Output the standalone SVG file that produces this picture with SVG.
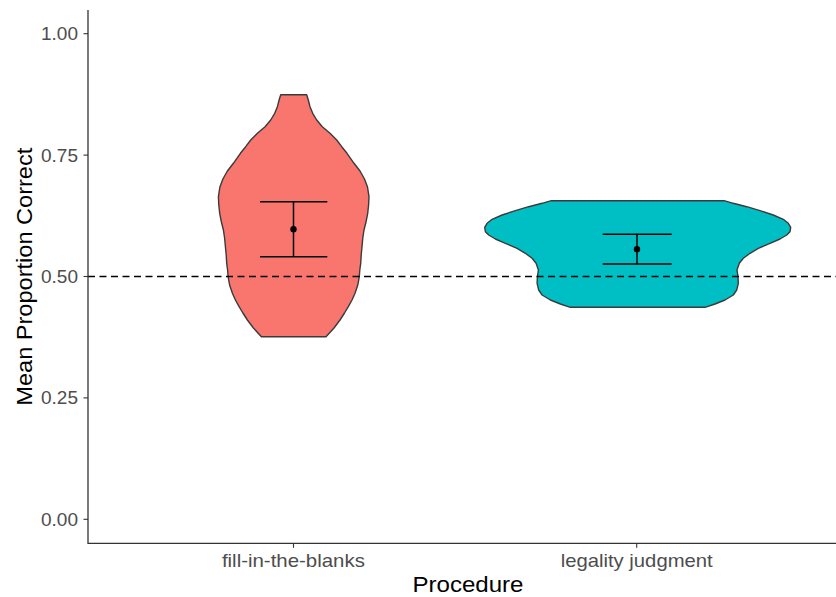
<svg xmlns="http://www.w3.org/2000/svg" width="836" height="597" viewBox="0 0 836 597">
  <style>
    .axis { stroke: #333333; stroke-width: 1.3; fill: none; }
    .tick { stroke: #333333; stroke-width: 1.1; }
    .ticklab { font-family: "Liberation Sans", Arial, sans-serif; font-size: 18px; fill: #4d4d4d; }
    .xlab { font-family: "Liberation Sans", Arial, sans-serif; font-size: 19px; fill: #4d4d4d; text-anchor: middle; }
    .title { font-family: "Liberation Sans", Arial, sans-serif; font-size: 22px; fill: #000000; text-anchor: middle; }
    .violin { stroke: #3a3a3a; stroke-width: 1.4; stroke-linejoin: round; }
    .err { stroke: #000000; stroke-width: 1.5; fill: none; }
    .ref { stroke: #000000; stroke-width: 1.3; stroke-dasharray: 7 4.5; fill: none; }
  </style>

  <rect width="836" height="597" fill="#ffffff"/>

  <!-- violins -->
  <g id="violin-fill-in-the-blanks">
    <polygon class="violin" fill="#F8766D" points="
      306.7,94.7 308.3,100 310,106.7 312.7,113.3 316.7,120 322.3,126.7 330,133.3 336.7,140 341.7,146.7 347,153.3
      354,163.3 360,171 364.5,179 367.5,187 369,196.7 368.6,205 367.7,213.3 366,222 364,230 362.8,238 362,246.7
      361.2,255 360.7,263.3 359.8,270 359.3,276.7 357.8,285 355,293.3 352,300 348.3,306.7 344.5,313 340,320 334,328
      326,336.7 261.4,336.7
      253.4,328 247.4,320 242.9,313 239.1,306.7 235.4,300 232.4,293.3 229.6,285 228.1,276.7 227.6,270 226.7,263.3
      226.2,255 225.4,246.7 224.6,238 223.4,230 221.4,222 219.7,213.3 218.8,205 218.4,196.7 219.9,187 222.9,179
      227.4,171 233.4,163.3 240.4,153.3 245.7,146.7 250.7,140 257.4,133.3 265.1,126.7 270.7,120 274.7,113.3
      277.4,106.7 279.1,100 280.7,94.7"/>
  </g>

  <g id="violin-legality-judgment">
    <polygon class="violin" fill="#00BFC4" points="
      724,200.7 733.3,203.3 746.7,206.7 760,210.7 773.3,215 783.3,219.3 788.3,223.3 790.7,227.3 790,231.7 786.7,235
      780,239 770,243.3 758.3,248.3 750,253.3 743.3,258.3 739.3,263.3 737,270 738,276.7 738.3,283.3 736.7,290
      733.3,295 725,300 715,304 705,307.3 570.4,307.3
      560.4,304 550.4,300 542.1,295 538.7,290 537.1,283.3 537.4,276.7 538.4,270 536.1,263.3 532.1,258.3 525.4,253.3
      517.1,248.3 505.4,243.3 495.4,239 488.7,235 485.4,231.7 484.7,227.3 487.1,223.3 492.1,219.3 502.1,215 515.4,210.7
      528.7,206.7 542.1,203.3 551.4,200.7"/>
  </g>

  <!-- reference line at chance -->
  <line class="ref" x1="88" y1="276.5" x2="836" y2="276.5"/>

  <!-- mean and error bars -->
  <g id="errorbar-fill-in-the-blanks">
    <line class="err" x1="260" y1="201.7" x2="327.3" y2="201.7"/>
    <line class="err" x1="260" y1="256.7" x2="327.3" y2="256.7"/>
    <line class="err" x1="293.5" y1="201.7" x2="293.5" y2="256.7"/>
    <circle cx="293.5" cy="229.3" r="3.2" fill="#000000"/>
  </g>
  <g id="errorbar-legality-judgment">
    <line class="err" x1="602.7" y1="234.3" x2="671.7" y2="234.3"/>
    <line class="err" x1="602.7" y1="264" x2="671.7" y2="264"/>
    <line class="err" x1="637" y1="234.3" x2="637" y2="264"/>
    <circle cx="637" cy="249.3" r="3.2" fill="#000000"/>
  </g>

  <!-- axes -->
  <g id="axes">
    <polyline class="axis" points="88,10 88,543.3 836,543.3"/>
    <line class="tick" x1="83.5" y1="33.7" x2="88" y2="33.7"/>
    <line class="tick" x1="83.5" y1="155.1" x2="88" y2="155.1"/>
    <line class="tick" x1="83.5" y1="276.5" x2="88" y2="276.5"/>
    <line class="tick" x1="83.5" y1="397.9" x2="88" y2="397.9"/>
    <line class="tick" x1="83.5" y1="519.3" x2="88" y2="519.3"/>
    <line class="tick" x1="293.5" y1="543.3" x2="293.5" y2="547.8"/>
    <line class="tick" x1="636.7" y1="543.3" x2="636.7" y2="547.8"/>

    <text class="ticklab" x="78" y="40.2" text-anchor="end" textLength="37" lengthAdjust="spacingAndGlyphs">1.00</text>
    <text class="ticklab" x="78" y="161.6" text-anchor="end" textLength="37" lengthAdjust="spacingAndGlyphs">0.75</text>
    <text class="ticklab" x="78" y="283" text-anchor="end" textLength="37" lengthAdjust="spacingAndGlyphs">0.50</text>
    <text class="ticklab" x="78" y="404.4" text-anchor="end" textLength="37" lengthAdjust="spacingAndGlyphs">0.25</text>
    <text class="ticklab" x="78" y="525.8" text-anchor="end" textLength="37" lengthAdjust="spacingAndGlyphs">0.00</text>

    <text class="xlab" x="293.4" y="566.7" textLength="143" lengthAdjust="spacingAndGlyphs">fill-in-the-blanks</text>
    <text class="xlab" x="636.7" y="566.7" textLength="152" lengthAdjust="spacingAndGlyphs">legality judgment</text>

    <text class="title" x="468" y="591.5" font-size="21" textLength="111" lengthAdjust="spacingAndGlyphs">Procedure</text>
    <text class="title" transform="translate(31.5,276.7) rotate(-90)" x="0" y="0" textLength="258" lengthAdjust="spacingAndGlyphs">Mean Proportion Correct</text>
  </g>
</svg>
